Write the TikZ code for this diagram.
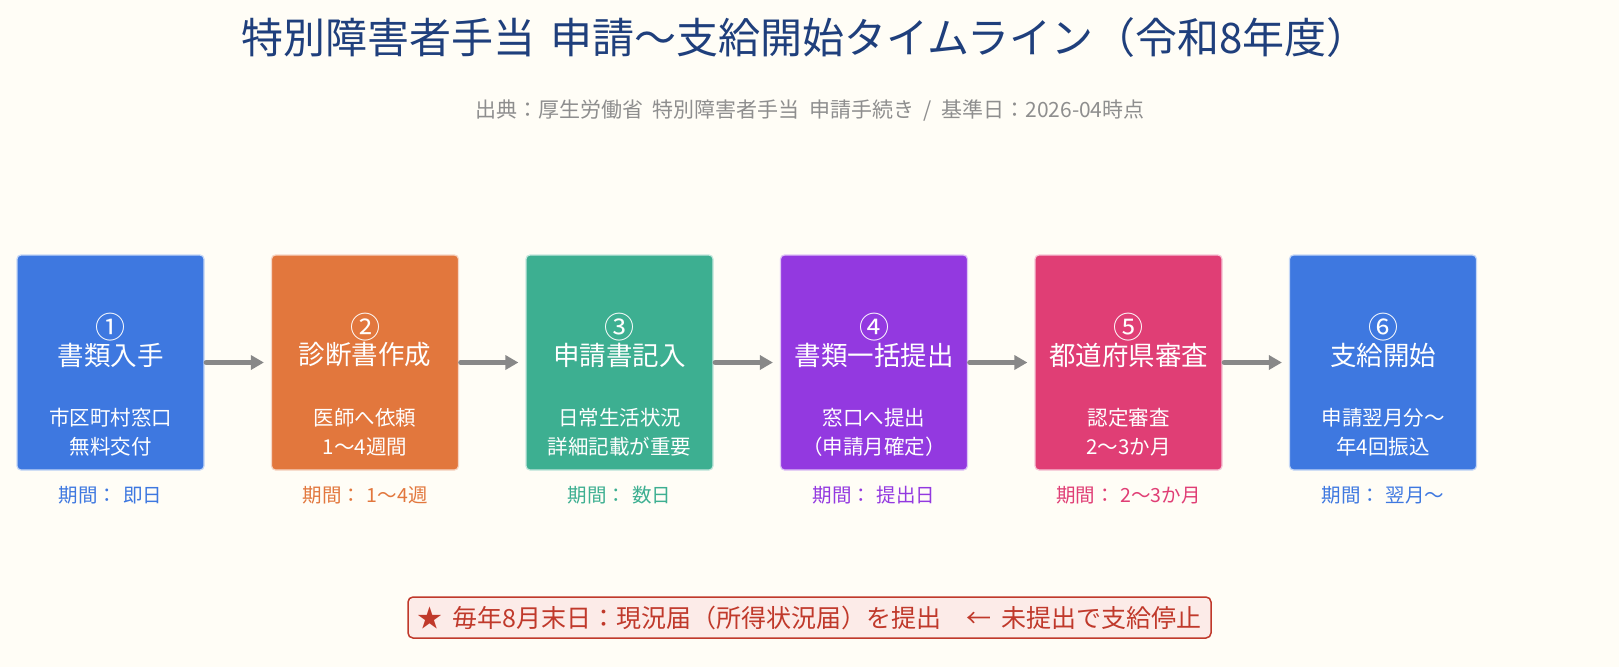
\documentclass[tikz,border=0pt]{standalone}
\usepackage{fontspec}
\setmainfont{Noto Sans CJK JP}
\usetikzlibrary{arrows.meta}
\definecolor{bgc}{HTML}{FFFDF6}
\definecolor{titlec}{HTML}{1F3F7C}
\definecolor{subc}{HTML}{8E8E8E}
\definecolor{cA}{HTML}{3E78E0}
\definecolor{cB}{HTML}{E2773D}
\definecolor{cC}{HTML}{3DAF91}
\definecolor{cD}{HTML}{9339E0}
\definecolor{cE}{HTML}{E03E75}
\definecolor{arrc}{HTML}{888888}
\definecolor{notec}{HTML}{C0392B}
\definecolor{notebg}{HTML}{FCEBE8}
\tikzset{
  stepbox/.style={draw=white!70!#1, line width=1.2pt, fill=#1, rounded corners=4pt, minimum width=187pt, minimum height=215pt, inner sep=0pt},
  numtxt/.style={text=white, font=\fontsize{30}{32}\selectfont, inner sep=0pt},
  headtxt/.style={text=white, font=\fontsize{26.5}{28}\selectfont, inner sep=0pt},
  desctxt/.style={text=white, font=\fontsize{20.5}{29}\selectfont, align=center, inner sep=0pt},
  durtxt/.style={text=#1, font=\fontsize{19.5}{21}\selectfont, inner sep=0pt},
  flowarrow/.style={draw=arrc, line width=4.8pt, line cap=round, -{Triangle[length=13pt,width=14pt]}},
}
\begin{document}
\begin{tikzpicture}[x=1pt,y=-1pt]
\fill[bgc] (0,0) rectangle (1619,667);
\useasboundingbox (0,0) rectangle (1619,667);
\node[text=titlec, font=\fontsize{42}{46}\selectfont, inner sep=0pt] (title) at (805,38) {特別障害者手当\hspace{0.35em}申請〜支給開始タイムライン（令和8年度）};
\node[text=subc, font=\fontsize{21}{23}\selectfont, inner sep=0pt] (sub) at (810,111) {出典：厚生労働省\hspace{0.45em}特別障害者手当\hspace{0.45em}申請手続き\hspace{0.45em}/\hspace{0.45em}基準日：2026-04時点};
\foreach \i/\c/\n/\h/\da/\db/\du in {
  1/cA/①/書類入手/市区町村窓口/無料交付/期間：\hspace{0.3em}即日,
  2/cB/②/診断書作成/医師へ依頼/1〜4週間/期間：\hspace{0.3em}1〜4週,
  3/cC/③/申請書記入/日常生活状況/詳細記載が重要/期間：\hspace{0.3em}数日,
  4/cD/④/書類一括提出/窓口へ提出/（申請月確定）/期間：\hspace{0.3em}提出日,
  5/cE/⑤/都道府県審査/認定審査/2〜3か月/期間：\hspace{0.3em}2〜3か月,
  6/cA/⑥/支給開始/申請翌月分〜/年4回振込/期間：\hspace{0.3em}翌月〜}{
  \pgfmathsetmacro{\cx}{110.5+254.5*(\i-1)}
  \node[stepbox=\c] (b\i) at (\cx,362.5) {};
  \node[numtxt] (n\i) at (\cx,327) {\n};
  \node[headtxt] (h\i) at (\cx,355) {\h};
  \node[desctxt] (d\i) at (\cx,418) {\da};
  \node[desctxt] (e\i) at (\cx,447) {\db};
  \node[durtxt=\c] (t\i) at (\cx,495) {\du};
}
\foreach \a/\b in {1/2,2/3,3/4,4/5,5/6}{
  \draw[flowarrow] ([xshift=1.5pt]b\a.east) -- ([xshift=-7pt]b\b.west);
}
\node[draw=notec, line width=1.5pt, fill=notebg, rounded corners=5pt, minimum width=803pt, minimum height=41pt, inner sep=0pt] (notebox) at (809.5,617.5) {};
\node[text=notec, font=\fontsize{25}{27}\selectfont, inner sep=0pt] (note) at (809.5,617.5) {★\hspace{0.4em}毎年8月末日：現況届（所得状況届）を提出\hspace{1em}←\hspace{0.4em}未提出で支給停止};
\end{tikzpicture}
\end{document}
